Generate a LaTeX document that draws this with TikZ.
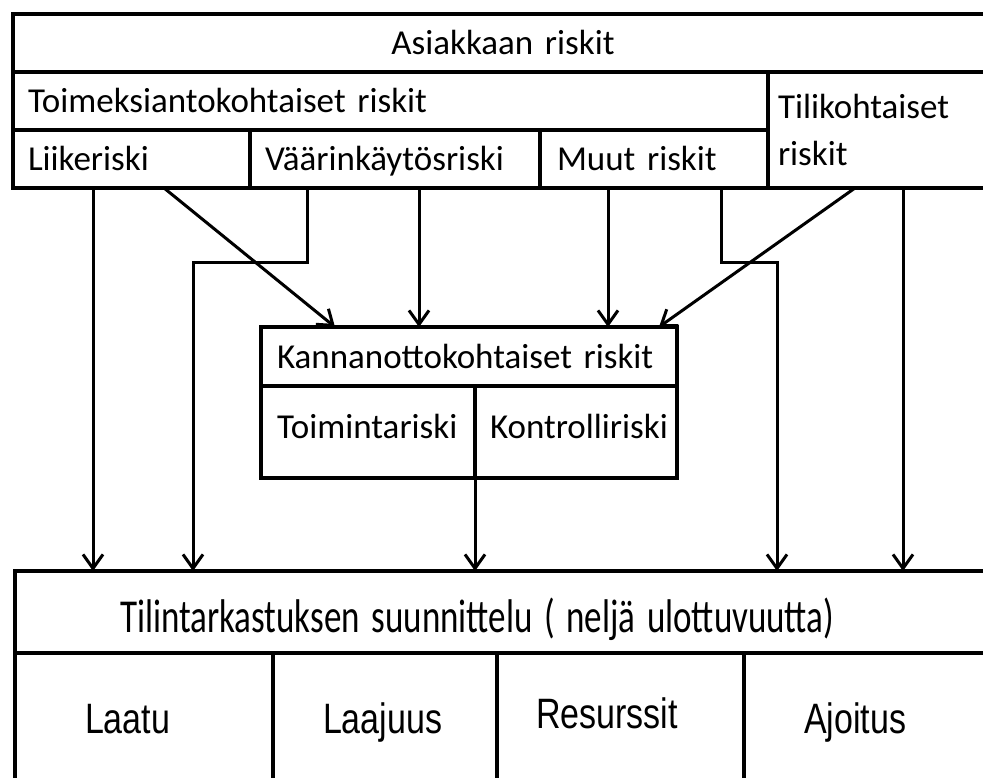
\documentclass[tikz,border=0pt]{standalone}
\usepackage{fontspec}
\setmainfont[WordSpace=0.6]{Carlito}
\newfontfamily\arialfont{Liberation Sans}
\usetikzlibrary{positioning, arrows.meta}

\begin{document}
\begin{tikzpicture}[x=1pt, y=-1pt, line width=3.5pt,
    cell/.style={draw, rectangle, anchor=north west, outer sep=0pt, inner ysep=0pt, align=left,
        text height=28pt, text depth=4pt, font=\fontsize{35}{47}\selectfont},
    dim/.style={cell, font=\arialfont\fontsize{34}{40}\selectfont, minimum height=130pt,
        text height=32pt, text depth=2pt},
    link/.style={->, line width=3pt},
    >={Straight Barb[length=14pt, width=20pt]}]
    \useasboundingbox (0,0) rectangle (983,778);
    \clip (0,0) rectangle (983,778);

    \node[cell, inner xsep=0pt, text width=980pt, align=center, minimum height=58pt] (asiakas) at (13,14) {Asiakkaan~riskit};
    \node[cell, inner xsep=15pt, text width=725pt, minimum height=58pt] (toim) at (13,72) {Toimeksiantokohtaiset~riskit};
    \node[cell, inner xsep=10pt, text width=210pt, minimum height=116pt, text height=, text depth=] (tili) at (768,72) {Tilikohtaiset\\riskit};
    \node[cell, inner xsep=15pt, text width=207pt, minimum height=58pt] (liike) at (13,130) {Liikeriski};
    \node[cell, inner xsep=15pt, text width=260pt, minimum height=58pt] (vaarin) at (250,130) {Väärinkäytösriski};
    \node[cell, inner xsep=17pt, text width=194pt, minimum height=58pt] (muut) at (540,130) {Muut~riskit};

    \node[cell, inner xsep=16pt, text width=384pt, minimum height=59pt] (kanna) at (261,327) {Kannanottokohtaiset~riskit};
    \node[cell, inner xsep=16pt, text width=182pt, minimum height=92pt, text height=20pt, text depth=8pt] (toimi) at (261,386) {Toimintariski};
    \node[cell, inner xsep=15pt, text width=172pt, minimum height=92pt, text height=20pt, text depth=8pt] (kontr) at (475,386) {Kontrolliriski};

    \node[cell, inner xsep=105pt, text width=770pt, minimum height=82pt, text height=42pt, text depth=2pt] (suun) at (15,571) {\scalebox{1}[1.35]{Tilintarkastuksen~suunnittelu~(~neljä~ulottuvuutta)}};
    \node[dim, inner xsep=70pt, text width=118pt] (laatu) at (15,653) {\scalebox{1}[1.25]{Laatu}};
    \node[dim, inner xsep=50pt, text width=124pt] (laajuus) at (273,653) {\scalebox{1}[1.25]{Laajuus}};
    \node[dim, inner xsep=39pt, text width=169pt] (resurssit) at (497,653) {\raisebox{5pt}{\scalebox{1}[1.25]{Resurssit}}};
    \node[dim, inner xsep=60pt, text width=130pt] (ajoitus) at (744,653) {\scalebox{1}[1.25]{Ajoitus}};

    \draw[link] ([xshift=80pt]liike.south west) coordinate (l1) -- (l1 |- suun.north);
    \draw[link] ([xshift=151pt]liike.south west) -- ([xshift=74pt]kanna.north west);
    \draw[link] ([xshift=57pt]vaarin.south west) -- ++(0,75) -- ++(-114,0) -- ([xshift=178pt]suun.north west);
    \draw[link] ([xshift=169pt]vaarin.south west) coordinate (v1) -- (v1 |- kanna.north);
    \draw[link] ([xshift=68pt]muut.south west) coordinate (m1) -- (m1 |- kanna.north);
    \draw[link] ([xshift=181pt]muut.south west) -- ++(0,75) -- ++(56,0) -- ([xshift=762pt]suun.north west);
    \draw[link] ([xshift=87pt]tili.south west) -- ([xshift=398pt]kanna.north west);
    \draw[link] ([xshift=135pt]tili.south west) coordinate (t1) -- (t1 |- suun.north);
    \draw[link] (toimi.south east) -- (toimi.south east |- suun.north);
\end{tikzpicture}
\end{document}
